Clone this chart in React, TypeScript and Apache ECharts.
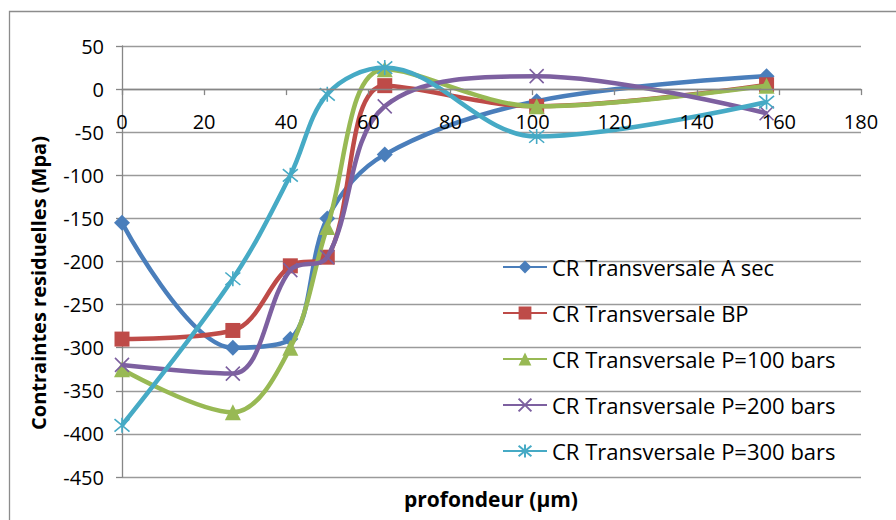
import React, { useEffect, useRef } from "react";
import * as echarts from "echarts";

const depths = [0, 27, 41, 50, 64, 101, 157];
const seriesNames = [
  "CR Transversale A sec",
  "CR Transversale BP",
  "CR Transversale P=100 bars",
  "CR Transversale P=200 bars",
  "CR Transversale P=300 bars",
];
const aSec = [-155, -300, -290, -150, -76, -14, 15];
const bp = [-290, -280, -205, -195, 4, -20, 5];
const p100 = [-325, -375, -300, -160, 23, -20, 4];
const p200 = [-320, -330, -210, -195, -20, 15, -28];
const p300 = [-390, -220, -100, -6, 25, -55, -15];
const colors = ["#4A7EBB", "#BE4B48", "#98B954", "#7D60A0", "#46AAC5"];
const xTitle = "profondeur (µm)";
const yTitle = "Contraintes residuelles (Mpa)";

const FONT = "'Open Sans', 'Noto Sans', sans-serif";
const AXIS = "#868686";

export default function App() {
  const ref = useRef<HTMLDivElement>(null);
  useEffect(() => {
    document.body.style.margin = "0";
    const chart = echarts.init(ref.current!, null, { renderer: "svg" });
    const all = [aSec, bp, p100, p200, p300];
    const symbols = [
      "diamond",
      "rect",
      "triangle",
      "path://M0,0L10,10M10,0L0,10",
      "path://M0,0L10,10M10,0L0,10M5,-1L5,11",
    ];
    const sizes = [16, 15, 16, 14, 15];
    const series = all.map((vals, i) => {
      const stroked = i >= 3;
      return {
        name: seriesNames[i],
        type: "line",
        smooth: 0.35,
        xAxisIndex: 0,
        yAxisIndex: 0,
        data: depths.map((d, k) => [d, vals[k]]),
        symbol: symbols[i],
        symbolSize: sizes[i],
        showSymbol: true,
        lineStyle: { color: colors[i], width: 4.5 },
        itemStyle: stroked
          ? { color: "rgba(0,0,0,0)", borderColor: colors[i], borderWidth: 1.6 }
          : { color: colors[i], borderWidth: 0 },
        z: 2 + i,
      };
    });
    const plotTop = 46;
    const plotH = 431;
    const zeroH = (plotH * 50) / 500;
    chart.setOption({
      animation: false,
      textStyle: { fontFamily: FONT },
      grid: [
        { left: 122, right: 35, top: plotTop, height: plotH, containLabel: false },
        { left: 122, right: 35, top: plotTop, height: zeroH, containLabel: false },
      ],
      xAxis: [
        {
          type: "value",
          gridIndex: 0,
          min: 0,
          max: 180,
          interval: 20,
          axisLine: { show: false },
          axisTick: { show: false },
          axisLabel: { show: false },
          splitLine: { show: false },
        },
        {
          type: "value",
          gridIndex: 1,
          min: 0,
          max: 180,
          interval: 20,
          position: "bottom",
          axisLine: { show: true, onZero: false, lineStyle: { color: AXIS, width: 1.3 } },
          axisTick: { show: true, length: 6, inside: false, lineStyle: { color: AXIS, width: 1.3 } },
          axisLabel: { color: "#000", fontSize: 20, fontFamily: FONT, margin: 22 },
          splitLine: { show: false },
          z: 10,
        },
      ],
      yAxis: [
        {
          type: "value",
          gridIndex: 0,
          min: -450,
          max: 50,
          interval: 50,
          axisLine: { show: true, lineStyle: { color: AXIS, width: 1.3 } },
          axisTick: { show: true, length: 6, lineStyle: { color: AXIS, width: 1.3 } },
          axisLabel: { color: "#000", fontSize: 20, fontFamily: FONT, margin: 18 },
          splitLine: { show: true, lineStyle: { color: "#9a9a9a", width: 1.3 } },
        },
        {
          type: "value",
          gridIndex: 1,
          min: 0,
          max: 1,
          show: false,
        },
      ],
      legend: {
        orient: "vertical",
        left: 502,
        top: 254,
        padding: 0,
        itemWidth: 44,
        itemHeight: 16,
        itemGap: 20,
        textStyle: { fontSize: 22, lineHeight: 26, color: "#000", fontFamily: FONT },
        data: seriesNames,
      },
      graphic: [
        {
          type: "rect",
          shape: { x: 9.5, y: 11.5, width: 1000, height: 1000 },
          style: { fill: "none", stroke: "#8c8c8c", lineWidth: 1.3 },
          silent: true,
          z: -1,
        },
        {
          type: "text",
          x: 491,
          y: 499,
          style: {
            text: xTitle,
            font: `bold 21px ${FONT}`,
            fill: "#000",
            align: "center",
            verticalAlign: "middle",
          },
        },
        {
          type: "text",
          x: 38,
          y: 283,
          rotation: Math.PI / 2,
          style: {
            text: yTitle,
            font: `bold 20px ${FONT}`,
            fill: "#000",
            align: "center",
            verticalAlign: "middle",
          },
        },
      ],
      series,
    });
    return () => chart.dispose();
  }, []);
  return <div ref={ref} style={{ width: 896, height: 520, background: "#fff" }} />;
}
